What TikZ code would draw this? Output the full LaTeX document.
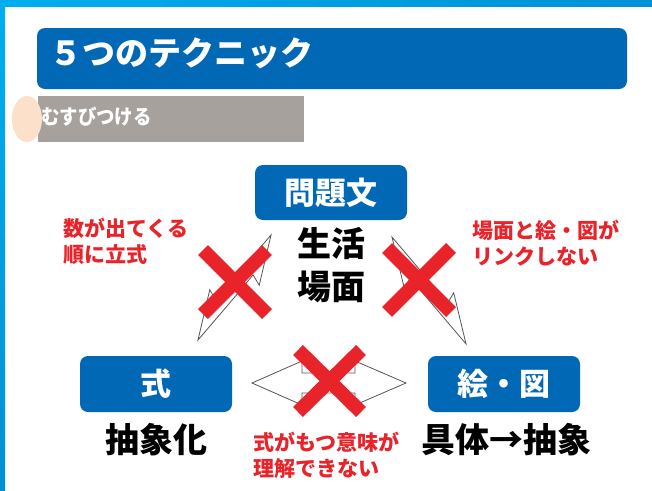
\documentclass[tikz,border=0pt]{standalone}
\usepackage{fontspec}
\setmainfont{Noto Sans CJK JP}
\definecolor{frameA}{HTML}{00AEEF}
\definecolor{frameB}{HTML}{0090D6}
\definecolor{boxblue}{HTML}{0068B5}
\definecolor{barGray}{HTML}{A7A19E}
\definecolor{peach}{HTML}{FCE0CA}
\definecolor{xred}{HTML}{E8232A}
\definecolor{arrowline}{HTML}{555555}
\tikzset{
  bluebox/.style={fill=boxblue, rounded corners=8pt, inner sep=0pt, text=white, font=\bfseries\fontsize{31}{36}\selectfont},
  bigblack/.style={font=\bfseries\fontsize{34}{40}\selectfont, text=black, inner sep=0pt},
  redtext/.style={font=\bfseries\fontsize{21}{26}\selectfont, text=xred, align=left, inner sep=0pt},
  dblarrow/.style={fill=white, draw=arrowline, line width=0.8pt, line join=miter},
  redx/.style={draw=xred, line width=14pt}
}
\begin{document}
\begin{tikzpicture}[x=1pt,y=-1pt]
\useasboundingbox (0,0) rectangle (652,490);
\fill[white] (0,0) rectangle (652,490);
% frame bands
\shade[left color=frameA, right color=frameB] (0,0) rectangle (652,6);
\shade[top color=frameA, bottom color=frameB] (0,0) rectangle (5,490);
% title bar
\node[bluebox, minimum width=590pt, minimum height=61pt] (title) at (332,58.5) {};
\node[anchor=west, text=white, inner sep=0pt, font=\bfseries\fontsize{33}{40}\selectfont] (titletext) at (49,53) {５つのテクニック};
% subtitle bar
\fill[barGray] (38,96) rectangle (304,142);
\fill[peach] (27,119) ellipse [x radius=15, y radius=23];
\node[anchor=west, text=white, inner sep=0pt, xscale=0.9, font=\bfseries\fontsize{20.5}{24}\selectfont] (sub) at (41,117) {むすびつける};
% boxes
\node[bluebox, minimum width=152pt, minimum height=55pt] (q) at (331,192.5) {問題文};
\node[bluebox, minimum width=152pt, minimum height=56pt] (shiki) at (156,384) {式};
\node[bluebox, minimum width=152pt, minimum height=56pt] (e) at (504,384) {絵・図};
% texts
\node[bigblack] (seikatsu) at (331,244) {生活};
\node[bigblack] (bamen) at (331,287) {場面};
\node[bigblack] (chusho) at (156,440) {抽象化};
\node[bigblack] (gutai) at (506,440) {具体→抽象};
\node[redtext, anchor=west] (r1) at (63,241) {数が出てくる\\順に立式};
\node[redtext, anchor=west] (r2) at (472,243) {場面と絵・図が\\リンクしない};
\node[redtext, anchor=west] (r3) at (253,455) {式がもつ意味が\\理解できない};
% double arrows
\begin{scope}[shift={(234.5,287.5)}, rotate=55.2]
  \draw[dblarrow] (64,0) -- (16,19) -- (21,8) -- (-4,6) -- (-64,0) -- (-16,-19) -- (-21,-8) -- (4,-6) -- cycle;
\end{scope}
\begin{scope}[shift={(429,290.5)}, rotate=-55.3]
  \draw[dblarrow] (65,0) -- (16,-19) -- (21,-8) -- (-4,-6) -- (-65,0) -- (-16,19) -- (-21,8) -- (4,6) -- cycle;
\end{scope}
\draw[dblarrow] (252,383) -- (302,361) -- (302,373) -- (355,373) -- (355,361) -- (406,383) -- (355,405) -- (355,393) -- (302,393) -- (302,405) -- cycle;
% red crosses
\draw[redx] (203,250) -- (267,314);
\draw[redx] (267,250) -- (203,314);
\draw[redx] (387,248) -- (451,312);
\draw[redx] (451,248) -- (387,312);
\draw[redx] (298,350) -- (361,412);
\draw[redx] (361,350) -- (298,412);
\end{tikzpicture}
\end{document}
